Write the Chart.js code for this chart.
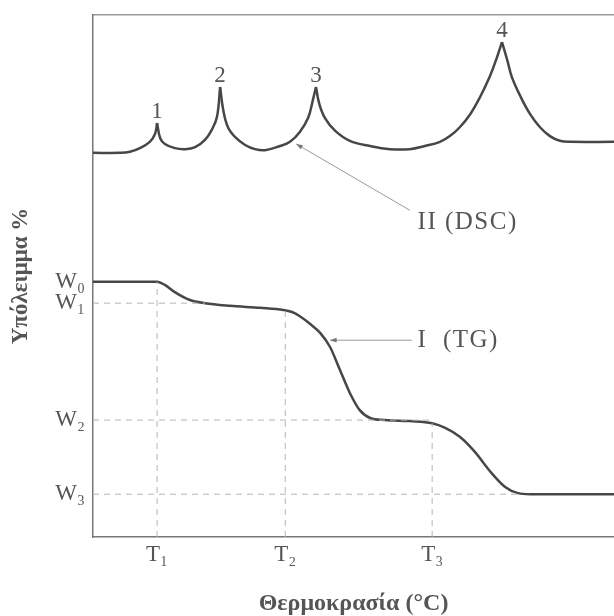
<!DOCTYPE html>
<html>
<head>
<meta charset="utf-8">
<script src="https://cdn.jsdelivr.net/npm/chart.js@4"></script>
<style>
  body { margin: 0; background: #fff; }
  canvas { display: block; }
</style>
</head>
<body>
<canvas id="grafica" width="614" height="616"></canvas>
<script>
// temperature axis (arbitrary units 0-100)
const tValues = [12.3, 36.9, 65.1];
const tLabels = ["T₁", "T₂", "T₃"];

// residue axis (arbitrary units 0-100)
const wValues = [48.9, 44.8, 22.4, 8.2];
const wLabels = ["W₀", "W₁", "W₂", "W₃"];

// curve I (TG)
const tgX = [0, 12.3, 13.8, 15.7, 18.6, 21.5, 26.3, 32.1, 36.5, 38.2, 39.7, 41.7, 43.6, 45.5, 47.4,
             49.3, 51.2, 53.2, 56.0, 60.8, 65.1, 67.6, 70.4, 73.3, 76.2, 79.1, 81.6, 83.9, 100];
const tgY = [48.9, 48.9, 48.3, 46.9, 45.4, 44.8, 44.3, 43.9, 43.5, 43.1, 42.3, 40.8, 39.1, 36.4, 32.0,
             27.6, 24.3, 22.8, 22.4, 22.2, 21.8, 20.9, 19.2, 16.3, 12.6, 9.6, 8.4, 8.2, 8.2];

// curve II (DSC)
const dscX = [0, 5.2, 7.1, 9.0, 10.9, 11.9, 12.3, 12.9, 13.8, 15.7, 17.7, 19.6, 21.5, 22.8, 23.8,
              24.4, 25.0, 25.9, 27.3, 29.2, 31.1, 33.0, 35.9, 37.8, 39.7, 41.3, 42.2, 42.8,
              43.4, 44.5, 46.5, 49.3, 53.2, 57.0, 60.8, 63.7, 66.6, 68.5, 70.4, 72.4, 74.3, 76.2, 77.5, 78.5,
              79.5, 80.4, 82.0, 83.9, 85.8, 87.7, 89.6, 91.6, 100];
const dscY = [73.6, 73.6, 73.8, 74.5, 75.7, 77.2, 79.3, 76.4, 75.3, 74.5, 74.3, 74.7, 76.1, 78.0, 80.5,
              86.2, 81.8, 78.5, 76.6, 75.1, 74.3, 74.1, 74.9, 75.7, 77.6, 80.3, 83.7, 86.2,
              83.1, 80.3, 77.8, 75.9, 74.9, 74.3, 74.3, 74.9, 75.7, 76.8, 78.5, 81.0, 84.3, 88.3, 91.8, 94.8,
              91.4, 88.1, 84.5, 81.0, 78.5, 76.8, 75.9, 75.7, 75.7];
const peakNames = ["1", "2", "3", "4"];

// where the dashed guide lines stop
const wLineEnd = [null, 21.5, 65.1, 82.0];
const tLineEnd = [48.9, 43.5, 21.8];

// callouts
const callouts = [
  { text: "II (DSC)", x: 62.3, y: 60.3, fromX: 60.8, fromY: 62.6, toX: 39.0, toY: 75.3 },
  { text: "I  (TG)", x: 62.3, y: 37.7, fromX: 61.2, fromY: 37.7, toX: 45.5, toY: 37.7 }
];

const serif = "'Liberation Serif', 'Times New Roman', serif";
const textColor = "#555";
const curveColor = "#474747";

function pares(xs, ys) {
  return xs.map((v, i) => ({ x: v, y: ys[i] }));
}

// split DSC at the peaks so every peak stays a sharp cusp
let peakIdx = [];
for (let i = 1; i < dscY.length - 1; i++) {
  if (dscY[i] > dscY[i - 1] && dscY[i] > dscY[i + 1]) peakIdx.push(i);
}
let cortes = [0, ...peakIdx, dscY.length - 1];

let datasets = [];

wValues.forEach((w, i) => {
  if (wLineEnd[i] === null) return;
  datasets.push({
    data: [{ x: 0, y: w }, { x: wLineEnd[i], y: w }],
    borderColor: "#b5b5b5", borderWidth: 1, borderDash: [6, 5]
  });
});
tValues.forEach((t, i) => {
  datasets.push({
    data: [{ x: t, y: 0 }, { x: t, y: tLineEnd[i] }],
    borderColor: "#b5b5b5", borderWidth: 1, borderDash: [6, 5]
  });
});

datasets.push({
  data: pares(tgX, tgY),
  borderColor: curveColor, borderWidth: 2.5, cubicInterpolationMode: "monotone"
});

for (let k = 0; k < cortes.length - 1; k++) {
  datasets.push({
    data: pares(dscX.slice(cortes[k], cortes[k + 1] + 1), dscY.slice(cortes[k], cortes[k + 1] + 1)),
    borderColor: curveColor, borderWidth: 2.5, tension: 0.4
  });
}

const anotaciones = {
  id: "anotaciones",
  afterDatasetsDraw(chart) {
    const { ctx, scales: { x, y } } = chart;
    ctx.save();
    ctx.fillStyle = textColor;
    ctx.font = "23px " + serif;
    ctx.textAlign = "center";
    ctx.textBaseline = "alphabetic";
    peakIdx.forEach((idx, k) => {
      ctx.fillText(peakNames[k], x.getPixelForValue(dscX[idx]), y.getPixelForValue(dscY[idx]) - 5);
    });

    ctx.textAlign = "left";
    ctx.textBaseline = "middle";
    ctx.font = "25px " + serif;
    ctx.letterSpacing = "1.5px";
    callouts.forEach(c => {
      ctx.fillText(c.text, x.getPixelForValue(c.x), y.getPixelForValue(c.y));
      const x1 = x.getPixelForValue(c.fromX), y1 = y.getPixelForValue(c.fromY);
      const x2 = x.getPixelForValue(c.toX), y2 = y.getPixelForValue(c.toY);
      ctx.strokeStyle = "#999";
      ctx.lineWidth = 1;
      ctx.beginPath();
      ctx.moveTo(x1, y1);
      ctx.lineTo(x2, y2);
      ctx.stroke();
      const ang = Math.atan2(y2 - y1, x2 - x1);
      ctx.fillStyle = "#777";
      ctx.beginPath();
      ctx.moveTo(x2, y2);
      ctx.lineTo(x2 - 7 * Math.cos(ang - 0.35), y2 - 7 * Math.sin(ang - 0.35));
      ctx.lineTo(x2 - 7 * Math.cos(ang + 0.35), y2 - 7 * Math.sin(ang + 0.35));
      ctx.closePath();
      ctx.fill();
      ctx.fillStyle = textColor;
    });
    ctx.restore();
  }
};

const ctx = document.getElementById("grafica").getContext("2d");

new Chart(ctx, {
  type: "line",
  data: { datasets: datasets },
  options: {
    responsive: false,
    animation: false,
    layout: { padding: { top: 15, right: 0, bottom: 0, left: 0 } },
    elements: { point: { radius: 0 } },
    plugins: { legend: { display: false }, tooltip: { enabled: false } },
    scales: {
      x: {
        type: "linear", min: 0, max: 100, position: "bottom",
        grid: { display: false, drawTicks: false },
        border: { color: "#777", width: 1.5 },
        afterBuildTicks: s => { s.ticks = tValues.map(v => ({ value: v })); },
        afterFit: s => { s.height = 79; s.paddingLeft = 0; s.paddingRight = 0; },
        ticks: {
          callback: (v, i) => tLabels[i],
          autoSkip: false, maxRotation: 0, padding: 4,
          color: textColor, font: { family: serif, size: 23 }
        },
        title: {
          display: true, text: "Θερμοκρασία (°C)", color: textColor, padding: 0,
          font: { family: serif, size: 24, weight: "bold", lineHeight: 1 }
        }
      },
      xTop: {
        type: "linear", min: 0, max: 100, position: "top",
        grid: { display: false, drawTicks: false },
        border: { color: "#999", width: 1.5 },
        ticks: { display: false },
        afterFit: s => { s.height = 0; s.paddingLeft = 0; s.paddingRight = 0; }
      },
      y: {
        type: "linear", min: 0, max: 100, position: "left",
        grid: { display: false, drawTicks: false },
        border: { color: "#777", width: 1.5 },
        afterBuildTicks: s => { s.ticks = wValues.map(v => ({ value: v })); },
        afterFit: s => { s.width = 93; s.paddingTop = 0; s.paddingBottom = 0; },
        ticks: {
          callback: (v, i) => wLabels[i],
          autoSkip: false, padding: 8,
          color: textColor, font: { family: serif, size: 23 }
        },
        title: {
          display: true, text: "Υπόλειμμα %", color: textColor, padding: { top: 7, bottom: 0 },
          font: { family: serif, size: 23, weight: "bold", lineHeight: 1.2 }
        }
      }
    }
  },
  plugins: [anotaciones]
});
</script>
</body>
</html>
